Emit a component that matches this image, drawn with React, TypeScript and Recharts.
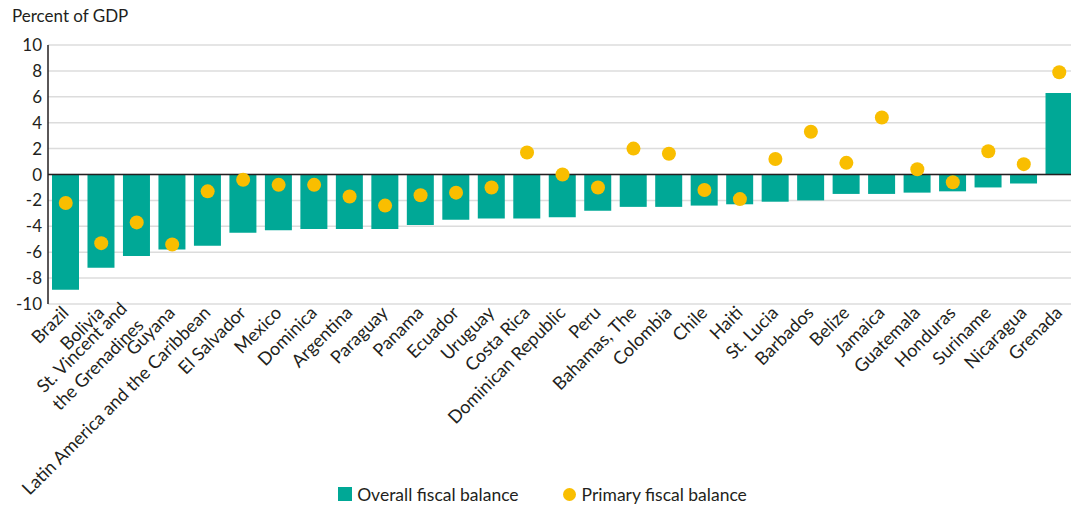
import { ComposedChart, Bar, Line, XAxis, YAxis, CartesianGrid, ReferenceLine, Legend } from 'recharts';

const countries = [
  'Brazil', 'Bolivia', 'St. Vincent and\nthe Grenadines', 'Guyana', 'Latin America and the Caribbean',
  'El Salvador', 'Mexico', 'Dominica', 'Argentina', 'Paraguay', 'Panama', 'Ecuador', 'Uruguay',
  'Costa Rica', 'Dominican Republic', 'Peru', 'Bahamas, The', 'Colombia', 'Chile', 'Haiti',
  'St. Lucia', 'Barbados', 'Belize', 'Jamaica', 'Guatemala', 'Honduras', 'Suriname', 'Nicaragua', 'Grenada',
];

const overallBalance = [
  -8.9, -7.2, -6.3, -5.8, -5.5, -4.5, -4.3, -4.2, -4.2, -4.2, -3.9, -3.5, -3.4, -3.4, -3.3,
  -2.8, -2.5, -2.5, -2.4, -2.3, -2.1, -2.0, -1.5, -1.5, -1.4, -1.3, -1.0, -0.7, 6.3,
];

const primaryBalance = [
  -2.2, -5.3, -3.7, -5.4, -1.3, -0.4, -0.8, -0.8, -1.7, -2.4, -1.6, -1.4, -1.0, 1.7, 0.0,
  -1.0, 2.0, 1.6, -1.2, -1.9, 1.2, 3.3, 0.9, 4.4, 0.4, -0.6, 1.8, 0.8, 7.9,
];

const yTicks = [-10, -8, -6, -4, -2, 0, 2, 4, 6, 8, 10];

const TEAL = '#00a896';
const GOLD = '#f9be00';
const INK = '#231f20';
const FONT = 'Lato, sans-serif';

const data = countries.map((name, i) => ({
  name,
  overall: overallBalance[i],
  primary: primaryBalance[i],
}));

// rotated country labels, some split over two lines
function CountryTick({ x, y, payload }: any) {
  const lines = String(payload.value).split('\n');
  const multi = lines.length > 1;
  const ax = x + 4;
  const ay = y + 10;
  return (
    <text
      x={ax}
      y={ay}
      transform={`rotate(-45, ${ax}, ${ay})`}
      textAnchor="end"
      fill={INK}
      fontSize={18}
      fontFamily={FONT}
    >
      {lines.map((line, i) => (
        <tspan key={i} x={multi ? ax - 6 : ax} dy={i === 0 ? (multi ? '-0.65em' : '0') : '1.3em'}>
          {line}
        </tspan>
      ))}
    </text>
  );
}

function ChartLegend() {
  return (
    <div style={{ display: 'flex', justifyContent: 'center', alignItems: 'center', gap: 44, fontFamily: FONT, fontSize: 17.5, color: INK, height: 24 }}>
      <span style={{ display: 'flex', alignItems: 'center' }}>
        <span style={{ width: 14, height: 14, background: TEAL, marginRight: 5, display: 'inline-block' }} />
        Overall fiscal balance
      </span>
      <span style={{ display: 'flex', alignItems: 'center' }}>
        <span style={{ width: 13, height: 13, borderRadius: '50%', background: GOLD, marginRight: 6, display: 'inline-block' }} />
        Primary fiscal balance
      </span>
    </div>
  );
}

export default function App() {
  return (
    <div style={{ position: 'absolute', left: 0, top: 0, width: 1071, height: 506, overflow: 'hidden', background: '#fff' }}>
      <div style={{ position: 'absolute', left: 12, top: 5, fontFamily: FONT, fontSize: 17, color: INK, zIndex: 2 }}>
        Percent of GDP
      </div>
      <ComposedChart
        width={1077}
        height={506}
        data={data}
        margin={{ top: 45, right: 0, left: 8, bottom: 0 }}
        barCategoryGap={4}
      >
        <CartesianGrid vertical={false} stroke="#dcdcdc" strokeWidth={1.5} />
        <XAxis
          dataKey="name"
          interval={0}
          height={178}
          axisLine={false}
          tickLine={false}
          tickSize={0}
          tickMargin={0}
          tick={<CountryTick />}
        />
        <YAxis
          domain={[-10, 10]}
          ticks={yTicks}
          width={40}
          tickLine={false}
          tickSize={0}
          tickMargin={6}
          axisLine={{ stroke: INK, strokeWidth: 1.5 }}
          tick={{ fill: INK, fontSize: 17, fontFamily: FONT }}
        />
        <Bar dataKey="overall" name="Overall fiscal balance" fill={TEAL} isAnimationActive={false} legendType="square" />
        <ReferenceLine y={0} stroke={INK} strokeWidth={1.5} />
        <Line
          dataKey="primary"
          name="Primary fiscal balance"
          stroke="none"
          dot={{ r: 7, fill: GOLD, stroke: 'none' }}
          activeDot={false}
          isAnimationActive={false}
          legendType="circle"
        />
        <Legend verticalAlign="bottom" height={24} content={<ChartLegend />} />
      </ComposedChart>
    </div>
  );
}
